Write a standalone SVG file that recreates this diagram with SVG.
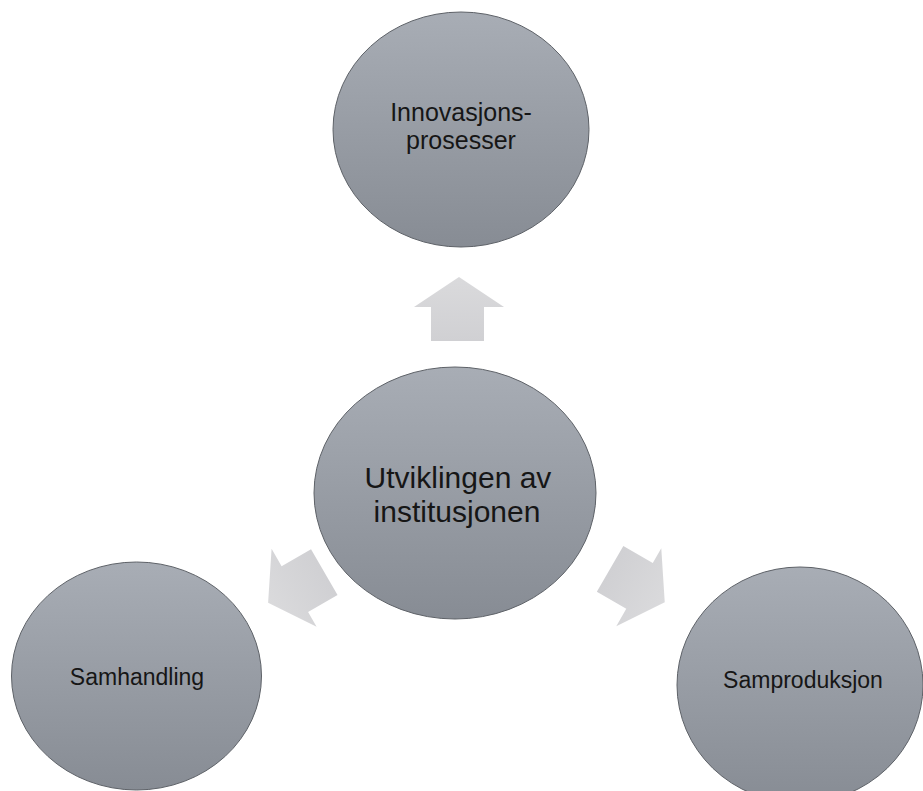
<svg xmlns="http://www.w3.org/2000/svg" xmlns:xlink="http://www.w3.org/1999/xlink" width="923" height="791" viewBox="0 0 923 791">
  <defs>
    <linearGradient id="nodeFill" x1="0" y1="0" x2="0" y2="1">
      <stop offset="0" stop-color="#a8adb5"/>
      <stop offset="1" stop-color="#878c94"/>
    </linearGradient>
    <linearGradient id="arrowFill" x1="0" y1="0" x2="0" y2="1">
      <stop offset="0" stop-color="#dadadc"/>
      <stop offset="1" stop-color="#d0d0d3"/>
    </linearGradient>
    <path id="arrow" d="M459,277 L504,307 L484,307 L484,341 L431,341 L431,307 L414,307 Z"/>
  </defs>
  <style>
    .node { fill: url(#nodeFill); stroke: #5e6268; stroke-width: 1; }
    .lbl { font-family: "Liberation Sans", Arial, sans-serif; fill: #161616; text-anchor: middle; }
    .arr { fill: url(#arrowFill); stroke: none; }
  </style>
  <rect width="923" height="791" fill="#ffffff"/>

  <g id="connectors">
    <use xlink:href="#arrow" href="#arrow" class="arr"/>
    <use xlink:href="#arrow" href="#arrow" class="arr" transform="rotate(-120 457.6 495)"/>
    <use xlink:href="#arrow" href="#arrow" class="arr" transform="rotate(120 468 499)"/>
  </g>

  <g id="node-innovasjon">
    <ellipse class="node" cx="461" cy="129.5" rx="128" ry="117.5"/>
    <text class="lbl" x="461" y="121" font-size="25">Innovasjons-</text>
    <text class="lbl" x="461" y="149" font-size="25">prosesser</text>
  </g>

  <g id="node-utviklingen">
    <ellipse class="node" cx="455" cy="493" rx="141" ry="126"/>
    <text class="lbl" x="458" y="488" font-size="30">Utviklingen av</text>
    <text class="lbl" x="457" y="522" font-size="30">institusjonen</text>
  </g>

  <g id="node-samhandling">
    <ellipse class="node" cx="136.5" cy="676" rx="125" ry="114"/>
    <text class="lbl" x="137" y="685" font-size="23">Samhandling</text>
  </g>

  <g id="node-samproduksjon">
    <ellipse class="node" cx="800" cy="685" rx="123" ry="118"/>
    <text class="lbl" x="803" y="688" font-size="23">Samproduksjon</text>
  </g>
</svg>
